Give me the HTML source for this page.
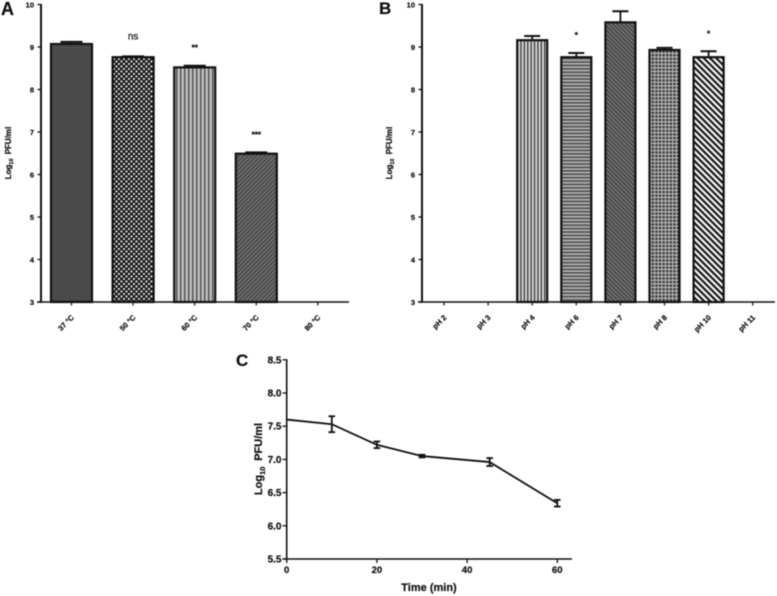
<!DOCTYPE html>
<html lang="en">
<head>
<meta charset="utf-8">
<title>Phage stability charts</title>
<style>
html,body{margin:0;padding:0;background:#fff;width:777px;height:596px;overflow:hidden}
svg{display:block;font-family:"Liberation Sans",Arial,sans-serif;filter:blur(.5px)}
text{fill:#111;stroke:#111;stroke-width:.22px}
</style>
</head>
<body>
<svg id="figure" width="777" height="596" viewBox="0 0 777 596" xmlns="http://www.w3.org/2000/svg">
<defs>
<pattern id="p-hfine" width="2" height="2" patternUnits="userSpaceOnUse"><rect width="2" height="2" fill="#3c3c3c"/><rect y="1" width="2" height=".7" fill="#666"/></pattern>
<pattern id="p-check" width="5" height="5" patternUnits="userSpaceOnUse"><rect width="5" height="5" fill="#1c1c1c"/><rect x=".5" y=".5" width="1.9" height="1.9" fill="#e8e8e8"/><rect x="3" y="3" width="1.9" height="1.9" fill="#e8e8e8"/></pattern>
<pattern id="p-vert" width="4" height="4" patternUnits="userSpaceOnUse"><rect width="4" height="4" fill="#bebebe"/><rect width="1.5" height="4" fill="#555"/></pattern>
<pattern id="p-diag" width="3" height="3" patternUnits="userSpaceOnUse" patternTransform="rotate(-45)"><rect width="3" height="3" fill="#6e6e6e"/><rect width="3" height="1.1" fill="#3c3c3c"/></pattern>
<pattern id="p-vert2" width="3.4" height="4" patternUnits="userSpaceOnUse"><rect width="3.4" height="4" fill="#dcdcdc"/><rect width="1.5" height="4" fill="#444"/></pattern>
<pattern id="p-horiz" width="4" height="3.4" patternUnits="userSpaceOnUse"><rect width="4" height="3.4" fill="#b4b4b4"/><rect width="4" height="1.7" fill="#505050"/></pattern>
<pattern id="p-diag2" width="3" height="3" patternUnits="userSpaceOnUse" patternTransform="rotate(45)"><rect width="3" height="3" fill="#707070"/><rect width="3" height="1.1" fill="#3a3a3a"/></pattern>
<pattern id="p-grid" width="3.6" height="3.6" patternUnits="userSpaceOnUse"><rect width="3.6" height="3.6" fill="#3a3a3a"/><rect x="2.5" width="1.1" height="3.6" fill="#c0c0c0"/><rect y="2.5" width="3.6" height="1.1" fill="#c0c0c0"/></pattern>
<pattern id="p-stripe" width="4.4" height="4.4" patternUnits="userSpaceOnUse" patternTransform="rotate(45)"><rect width="4.4" height="4.4" fill="#f6f6f6"/><rect width="4.4" height="2.1" fill="#111"/></pattern>
</defs>
<g id="layer"></g>
</svg>
<script>
// Panel A data
const catsA = ['37 °C', '50 °C', '60 °C', '70 °C', '80 °C'];
const valsA = [9.07, 8.76, 8.52, 6.49, null];
const errsA = [0.05, 0.02, 0.04, 0.03, null];
const sigA = ['', 'ns', '**', '***', ''];
const fillsA = ['p-hfine', 'p-check', 'p-vert', 'p-diag', ''];
// Panel B data
const catsB = ['pH 2', 'pH 3', 'pH 4', 'pH 6', 'pH 7', 'pH 8', 'pH 10', 'pH 11'];
const valsB = [null, null, 9.16, 8.76, 9.58, 8.93, 8.76, null];
const errsB = [null, null, 0.10, 0.10, 0.26, 0.05, 0.14, null];
const sigB = ['', '', '', '*', '', '', '*', ''];
const fillsB = ['', '', 'p-vert2', 'p-horiz', 'p-diag2', 'p-grid', 'p-stripe', ''];
const barTicks = [3, 4, 5, 6, 7, 8, 9, 10];
// Panel C data
const timesC = [0, 10, 20, 30, 45, 60];
const valsC = [7.6, 7.53, 7.22, 7.05, 6.96, 6.34];
const errsC = [0, 0.12, 0.05, 0.02, 0.06, 0.05];
const yTicksC = [5.5, 6.0, 6.5, 7.0, 7.5, 8.0, 8.5];
const xTicksC = [0, 20, 40, 60];

const NS = 'http://www.w3.org/2000/svg';
const layer = document.getElementById('layer');
function mk(tag, attrs, parent) {
  const el = document.createElementNS(NS, tag);
  for (const k in attrs) el.setAttribute(k, attrs[k]);
  (parent || layer).appendChild(el);
  return el;
}
function line(x1, y1, x2, y2, w, name, parent) {
  const el = mk('line', {x1: x1, y1: y1, x2: x2, y2: y2, stroke: '#111', 'stroke-width': w}, parent);
  
  
  return el;
}
function label(x, y, str, size, weight, anchor, name, rot, parent) {
  const el = mk('text', {x: x, y: y, 'font-size': size, 'font-weight': weight, 'text-anchor': anchor}, parent);
  if (rot) el.setAttribute('transform', 'rotate(' + rot + ' ' + x + ' ' + y + ')');
  el.textContent = str;
  
  
  return el;
}
function yLabel(x, y, size, parent) {
  const el = mk('text', {x: x, y: y, 'font-size': size, 'font-weight': 700, 'text-anchor': 'middle', 'xml:space': 'preserve', transform: 'rotate(-90 ' + x + ' ' + y + ')'}, parent);
  const a = mk('tspan', {}, el); a.textContent = 'Log';
  const b = mk('tspan', {dy: size * 0.25, 'font-size': size * 0.68}, el); b.textContent = '10';
  const c = mk('tspan', {dy: -size * 0.25, dx: size * 0.25}, el); c.textContent = ' PFU/ml';
  
  
  return el;
}

function barChart(opt) {
  const g = mk('g', {});
  
  
  const yPos = v => 302 - (v - 3) * 42.5;
  const xPos = i => opt.x0 + i * opt.step;
  opt.vals.forEach(function (v, i) {
    if (v === null) return;
    const x = xPos(i), y = yPos(v), top = yPos(v + opt.errs[i]);
    line(x, y, x, top, 1.8, 'error-bar', g);
    line(x - opt.cap, top, x + opt.cap, top, 2, 'error-cap', g);
    const r = mk('rect', {x: x - opt.w / 2, y: y, width: opt.w, height: yPos(3) - y, fill: 'url(#' + opt.fills[i] + ')', stroke: '#111', 'stroke-width': 2.2}, g);
    
    
    if (opt.sig[i]) {
      if (opt.sig[i] === 'ns') label(x, top - 17, 'ns', 10, 400, 'middle', 'significance-label', 0, g);
      else label(x, top - 15, opt.sig[i], 8, 700, 'middle', 'significance-label', 0, g);
    }
  });
  line(opt.axisX, yPos(10) - 0.5, opt.axisX, 302.8, 2, 'y-axis', g);
  line(opt.axisX - 4, 302, opt.xEnd, 302, 1.5, 'x-axis', g);
  barTicks.forEach(function (t) {
    line(opt.axisX - 3.5, yPos(t), opt.axisX, yPos(t), 1.3, 'y-tick', g);
    label(opt.axisX - 7, yPos(t) + 2.8, String(t), 7.5, 700, 'end', 'y-tick-label', 0, g);
  });
  opt.cats.forEach(function (c, i) {
    const x = xPos(i);
    line(x, 302, x, 305.5, 1.2, 'x-tick', g);
    label(x + 3, 318, c, 7.5, 700, 'end', 'x-tick-label', -45, g);
  });
  yLabel(opt.yLabelX, 153, 8, g);
}

barChart({name: 'temperature-chart', cats: catsA, vals: valsA, errs: errsA, sig: sigA, fills: fillsA,
  x0: 71.5, step: 61.6, w: 41, cap: 11, axisX: 41, xEnd: 349, yLabelX: 11});
barChart({name: 'ph-chart', cats: catsB, vals: valsB, errs: errsB, sig: sigB, fills: fillsB,
  x0: 444, step: 44.1, w: 30, cap: 8, axisX: 422, xEnd: 775, yLabelX: 392});

(function () {
  const g = mk('g', {});
  
  
  const xPos = t => 286.7 + t * 4.51;
  const yPos = v => 559 - (v - 5.5) * 66.4;
  line(286.7, yPos(8.5) - 0.5, 286.7, 560, 1.6, 'y-axis', g);
  line(283, 559, 572, 559, 1.6, 'x-axis', g);
  yTicksC.forEach(function (t) {
    line(282.5, yPos(t), 286.7, yPos(t), 1.3, 'y-tick', g);
    label(281.5, yPos(t) + 3.5, t.toFixed(1), 10, 700, 'end', 'y-tick-label', 0, g);
  });
  xTicksC.forEach(function (t) {
    line(xPos(t), 559, xPos(t), 563, 1.3, 'x-tick', g);
    label(xPos(t), 573, String(t), 9.5, 700, 'middle', 'x-tick-label', 0, g);
  });
  const pts = timesC.map((t, i) => xPos(t) + ',' + yPos(valsC[i])).join(' ');
  const pl = mk('polyline', {points: pts, fill: 'none', stroke: '#111', 'stroke-width': 1.8}, g);
  
  
  timesC.forEach(function (t, i) {
    if (!errsC[i]) return;
    const x = xPos(t), hi = yPos(valsC[i] + errsC[i]), lo = yPos(valsC[i] - errsC[i]);
    line(x, hi, x, lo, 1.8, 'error-bar', g);
    line(x - 3.3, hi, x + 3.3, hi, 1.8, 'error-cap', g);
    line(x - 3.3, lo, x + 3.3, lo, 1.8, 'error-cap', g);
  });
  yLabel(262, 459, 11, g);
  label(429, 591, 'Time (min)', 11, 700, 'middle', 'x-axis-title', 0, g);
})();

label(1, 15, 'A', 18, 700, 'start', 'panel-a-letter');
label(379, 14, 'B', 17, 700, 'start', 'panel-b-letter');
label(236, 366, 'C', 17, 700, 'start', 'panel-c-letter');
</script>
</body>
</html>
